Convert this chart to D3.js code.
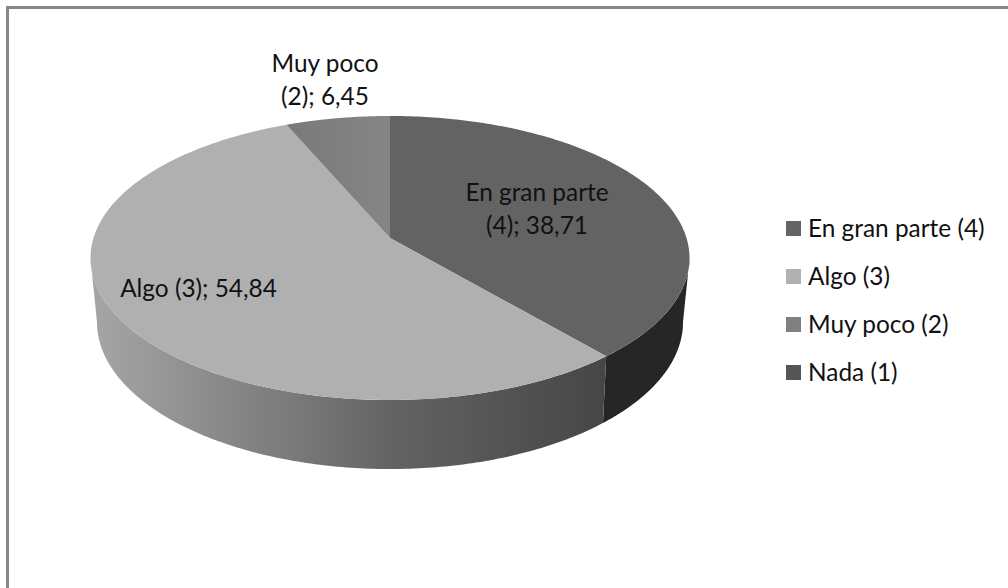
<!DOCTYPE html>
<html><head><meta charset="utf-8">
<script src="https://cdnjs.cloudflare.com/ajax/libs/d3/7.8.5/d3.min.js"></script>
<style>html,body{margin:0;padding:0;background:#fff}svg{display:block}text{font-family:Lato,"Open Sans",sans-serif;fill:#111}</style>
</head><body><svg id="c" width="1008" height="588"></svg>
<script>
const categories = ["En gran parte (4)", "Algo (3)", "Muy poco (2)", "Nada (1)"];
const values = [38.71, 54.84, 6.45, 0];
const valueLabels = ["38,71", "54,84", "6,45", "0"];
const topColors = ["#636363", "#b0b0b0", "url(#topMuy)", "#555555"];
const wallColors = [["#262626", "#262626", "#262626"], ["#a6a6a6", "#626262", "#464646"], ["#808080", "#808080", "#808080"], ["#555555", "#555555", "#555555"]];
const legendColors = ["#646464", "#b1b1b1", "#808080", "#555555"];

const svg = d3.select("#c");
const W = 1008, H = 588;
svg.append("rect").attr("x", 7.5).attr("y", 7.5).attr("width", W + 20).attr("height", H + 20)
  .attr("fill", "#fff").attr("stroke", "#868686").attr("stroke-width", 3);

// projected discs: the upper and lower rims are homographies of the unit circle
const upper = { cy: 238, rx: 296.5, ry: 139.2, e: 0.1408 };
const lower = { cy: 300, rx: 289.7, ry: 143.7, e: 0.15 };
const cx = 390;
const proj = (a, r, d) => {
  const u = r * Math.sin(a), v = -r * Math.cos(a), w = 1 - d.e * v;
  return [cx + d.rx * u / w, d.cy + d.ry * v / w];
};
const arcs = d3.pie().sort(null).value(d => d)(values);
const line = d3.line();
const steps = (a0, a1) => d3.range(0, 161).map(i => a0 + (a1 - a0) * i / 160);

const defs = svg.append("defs");
const tg = defs.append("linearGradient").attr("id", "topMuy").attr("gradientUnits", "userSpaceOnUse")
  .attr("x1", proj(arcs[1].endAngle, 1, upper)[0]).attr("x2", cx).attr("y1", 0).attr("y2", 0);
tg.append("stop").attr("offset", 0).attr("stop-color", "#797979");
tg.append("stop").attr("offset", 1).attr("stop-color", "#858585");

// near walls: only the front of the disc, between the two side tangents, is visible
const tanA = Math.PI / 2 + Math.asin(lower.e), tanB = 3 * Math.PI / 2 - Math.asin(lower.e);
arcs.forEach((d, i) => {
  const a0 = Math.max(d.startAngle, tanA), a1 = Math.min(d.endAngle, tanB);
  if (a1 <= a0) return;
  const topEdge = steps(a0, a1).map(a => proj(a, 1, upper));
  const botEdge = steps(a0, a1).map(a => proj(a, 1, lower)).reverse();
  const id = "wall" + i;
  const g = defs.append("linearGradient").attr("id", id).attr("gradientUnits", "userSpaceOnUse")
    .attr("x1", proj(tanB, 1, upper)[0]).attr("x2", proj(arcs[0].endAngle, 1, upper)[0]).attr("y1", 0).attr("y2", 0);
  g.append("stop").attr("offset", 0).attr("stop-color", wallColors[i][0]);
  g.append("stop").attr("offset", 0.6).attr("stop-color", wallColors[i][1]);
  g.append("stop").attr("offset", 1).attr("stop-color", wallColors[i][2]);
  svg.append("path").attr("d", line(topEdge.concat(botEdge)) + "Z").attr("fill", `url(#${id})`);
});
arcs.forEach((d, i) => {
  if (d.endAngle <= d.startAngle) return;
  const pts = [proj(0, 0, upper)].concat(steps(d.startAngle, d.endAngle).map(a => proj(a, 1, upper)));
  svg.append("path").attr("d", line(pts) + "Z").attr("fill", topColors[i]);
});

// data labels
const dataLabels = [
  { lines: ["En gran parte", "(4); " + valueLabels[0]], x: 537, y: 200.5 },
  { lines: ["Algo (3); " + valueLabels[1]], x: 198.5, y: 297 },
  { lines: ["Muy poco", "(2); " + valueLabels[2]], x: 325, y: 71.5 }
];
dataLabels.forEach(l => {
  l.lines.forEach((t, k) => svg.append("text").attr("x", l.x).attr("y", l.y + k * 33)
    .attr("text-anchor", "middle").attr("font-size", 24.4).text(t));
});

// legend
const legendY = d3.scalePoint().domain(categories).range([228, 372]);
categories.forEach((c, i) => {
  const y = legendY(c);
  svg.append("rect").attr("x", 786).attr("y", y - 7).attr("width", 15).attr("height", 15).attr("fill", legendColors[i]);
  svg.append("text").attr("x", 808).attr("y", y + 9).attr("font-size", 24.4).text(c);
});
</script></body></html>
